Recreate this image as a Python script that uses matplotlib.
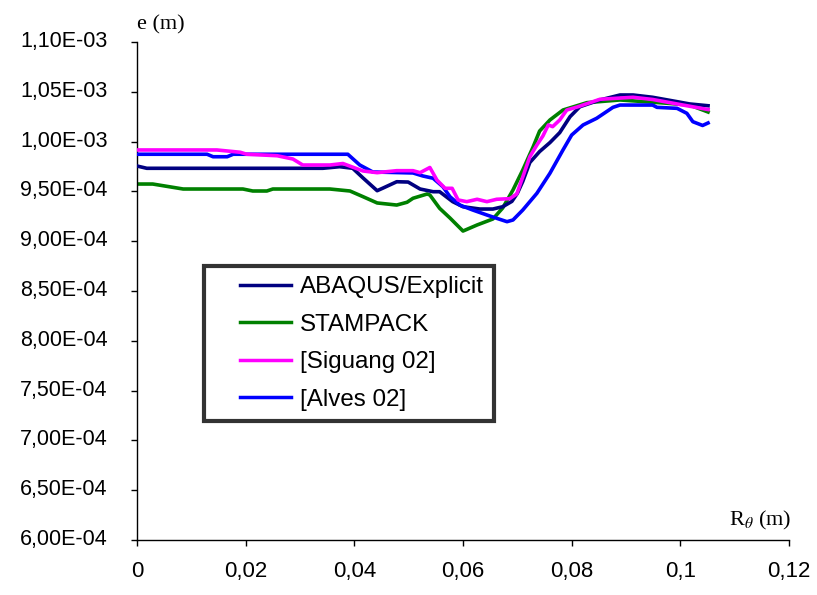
import matplotlib
matplotlib.use("Agg")
import matplotlib.pyplot as plt
import matplotlib.transforms as mtransforms
from matplotlib.ticker import FuncFormatter, MultipleLocator
from matplotlib.lines import Line2D
from matplotlib.legend_handler import HandlerLine2D

# ---- data (x in m, e in units of 1e-4 m) ----
abaqus_x = [0, 0.0018, 0.0342, 0.0373, 0.0397, 0.0416, 0.0442, 0.0453, 0.0478, 0.0499,
            0.0521, 0.0545, 0.0557, 0.0581, 0.0600, 0.0631, 0.0655, 0.0673, 0.0690, 0.0700,
            0.0710, 0.0723, 0.0741, 0.0760, 0.0778, 0.0797, 0.0815, 0.0852, 0.0889, 0.0913,
            0.0949, 0.0994, 0.1017, 0.1051]
abaqus_y = [9.755, 9.732, 9.732, 9.748, 9.732, 9.635, 9.507, 9.534, 9.597, 9.594,
            9.524, 9.497, 9.497, 9.397, 9.346, 9.323, 9.323, 9.346, 9.400, 9.480,
            9.600, 9.790, 9.900, 9.990, 10.090, 10.250, 10.350, 10.418, 10.468, 10.468,
            10.445, 10.401, 10.378, 10.360]

stampack_x = [0, 0.0029, 0.0085, 0.0195, 0.0213, 0.0239, 0.0250, 0.0355, 0.0392, 0.0416,
              0.0442, 0.0478, 0.0497, 0.0508, 0.0534, 0.0539, 0.0557, 0.0576, 0.0600, 0.0626,
              0.0655, 0.0673, 0.0692, 0.0710, 0.0729, 0.0741, 0.0760, 0.0784, 0.0828, 0.0889,
              0.0968, 0.1017, 0.1051]
stampack_y = [9.574, 9.574, 9.524, 9.524, 9.504, 9.504, 9.524, 9.524, 9.504, 9.447,
              9.384, 9.363, 9.391, 9.431, 9.474, 9.464, 9.330, 9.233, 9.102, 9.163,
              9.223, 9.333, 9.514, 9.715, 9.946, 10.106, 10.217, 10.317, 10.391, 10.418,
              10.388, 10.367, 10.297]

siguang_x = [0, 0.0147, 0.0190, 0.0202, 0.0258, 0.0287, 0.0305, 0.0355, 0.0379, 0.0416,
             0.0442, 0.0478, 0.0508, 0.0521, 0.0539, 0.0552, 0.0567, 0.0580, 0.0591, 0.0607,
             0.0626, 0.0644, 0.0662, 0.0686, 0.0699, 0.0710, 0.0723, 0.0736, 0.0747, 0.0757,
             0.0765, 0.0778, 0.0791, 0.0810, 0.0852, 0.0913, 0.0949, 0.1005, 0.1051]
siguang_y = [9.916, 9.916, 9.893, 9.873, 9.858, 9.825, 9.765, 9.765, 9.780, 9.705,
             9.688, 9.708, 9.708, 9.688, 9.740, 9.614, 9.531, 9.531, 9.414, 9.397,
             9.421, 9.397, 9.421, 9.427, 9.474, 9.645, 9.848, 9.966, 10.056, 10.167,
             10.150, 10.217, 10.317, 10.347, 10.425, 10.445, 10.423, 10.367, 10.322]

alves_x = [0, 0.0129, 0.0140, 0.0166, 0.0177, 0.0388, 0.0410, 0.0434, 0.0508, 0.0526,
           0.0545, 0.0563, 0.0576, 0.0594, 0.0618, 0.0644, 0.0662, 0.0681, 0.0692, 0.0710,
           0.0736, 0.0760, 0.0784, 0.0800, 0.0821, 0.0846, 0.0876, 0.0889, 0.0949, 0.0957,
           0.0994, 0.1012, 0.1023, 0.1041, 0.1051]
alves_y = [9.873, 9.873, 9.848, 9.848, 9.873, 9.873, 9.765, 9.695, 9.685, 9.655,
           9.632, 9.547, 9.447, 9.363, 9.313, 9.263, 9.230, 9.196, 9.213, 9.313,
           9.481, 9.682, 9.916, 10.066, 10.167, 10.234, 10.344, 10.367, 10.367, 10.344,
           10.334, 10.284, 10.200, 10.162, 10.187]

series_labels = ["ABAQUS/Explicit", "STAMPACK", "[Siguang 02]", "[Alves 02]"]
x_ticks = [0, 0.02, 0.04, 0.06, 0.08, 0.1, 0.12]
x_tick_labels = ["0", "0,02", "0,04", "0,06", "0,08", "0,1", "0,12"]

scale = 1e-4
colors = ["#000080", "#008000", "#FF00FF", "#0000FF"]

plt.rcParams["font.family"] = ["Liberation Sans", "DejaVu Sans"]
plt.rcParams["mathtext.fontset"] = "stix"

fig = plt.figure(figsize=(8.17, 5.95), dpi=100)
ax = fig.add_axes([137 / 817, 55 / 595, 652 / 817, 498 / 595])

lw = 2.6
h1, = ax.plot(abaqus_x, [v * scale for v in abaqus_y], color=colors[0], lw=lw, zorder=3)
h2, = ax.plot(stampack_x, [v * scale for v in stampack_y], color=colors[1], lw=lw, zorder=2)
h4, = ax.plot(alves_x, [v * scale for v in alves_y], color=colors[3], lw=lw, zorder=4)
h3, = ax.plot(siguang_x, [v * scale for v in siguang_y], color=colors[2], lw=lw, zorder=5)

ax.set_xlim(0, 0.12)
ax.set_ylim(6.0e-4, 1.10e-3)
ax.set_xticks(x_ticks)
ax.set_xticklabels(x_tick_labels)
ax.yaxis.set_major_locator(MultipleLocator(0.5e-4))


def yfmt(v, pos):
    if v >= 1e-3 - 1e-12:
        s = "%.2fE-03" % (v / 1e-3)
    else:
        s = "%.2fE-04" % (v / 1e-4)
    return s.replace(".", ",")


ax.yaxis.set_major_formatter(FuncFormatter(yfmt))

for side in ["top", "right"]:
    ax.spines[side].set_visible(False)
for side in ["left", "bottom"]:
    ax.spines[side].set_linewidth(1.0)
ax.tick_params(axis="both", direction="out", length=4, width=1.0)
ax.tick_params(axis="y", pad=17, labelsize=15.5)
ax.tick_params(axis="x", pad=11, labelsize=16)

# shift y tick labels up slightly
offset = mtransforms.ScaledTranslation(0, 3 / 100, fig.dpi_scale_trans)
for lab in ax.get_yticklabels():
    lab.set_transform(lab.get_transform() + offset)

fig.text(137 / 817, 1 - 25 / 595, "e (m)", family="Liberation Serif", fontsize=16,
         ha="left", va="center")
fig.text(791 / 817, 1 - 520 / 595, r"R$_\theta$ (m)", family="Liberation Serif",
         fontsize=16, ha="right", va="center")

fs = 17.4
leg = ax.legend([h1, h2, h3, h4], series_labels, loc="upper left",
                bbox_to_anchor=(204 / 817, 1 - 266 / 595), bbox_transform=fig.transFigure,
                fontsize=fs, frameon=True, fancybox=False, handlelength=3.2,
                labelspacing=0.64, borderpad=0.42, handletextpad=0.35, borderaxespad=0,
                handler_map={Line2D: HandlerLine2D(xpad=1.05)})
leg.get_frame().set_edgecolor("black")
leg.get_frame().set_linewidth(3)
for line in leg.get_lines():
    line.set_linewidth(2.5)

fig.savefig("out.png", dpi=100)
